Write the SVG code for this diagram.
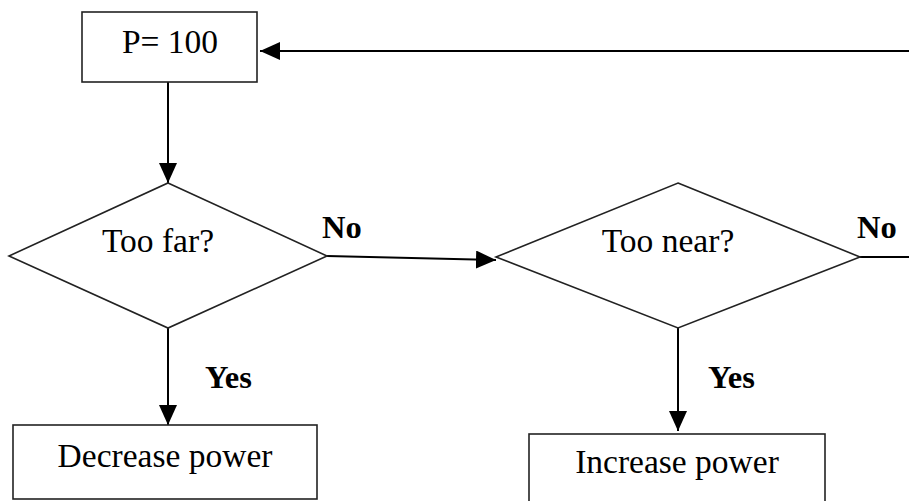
<svg xmlns="http://www.w3.org/2000/svg" width="909" height="501" viewBox="0 0 909 501">
<style>
.shape{fill:#fff;stroke:#222;stroke-width:1.6}
.line{fill:none;stroke:#000;stroke-width:2}
.t{font-family:"Liberation Serif","Times New Roman",serif;font-size:33.5px;fill:#000;text-anchor:middle}
.b{font-family:"Liberation Serif","Times New Roman",serif;font-size:32.5px;font-weight:bold;fill:#000}
</style>
<defs>
<marker id="ah" viewBox="0 0 20 18" refX="20" refY="9" markerWidth="20" markerHeight="18" markerUnits="userSpaceOnUse" orient="auto">
<path d="M0,0 L20,9 L0,18 Z" fill="#000"/>
</marker>
</defs>
<g id="connectors">
<line class="line" x1="909" y1="51" x2="260" y2="51" marker-end="url(#ah)"/>
<line class="line" x1="168" y1="82" x2="168" y2="183" marker-end="url(#ah)"/>
<line class="line" x1="327" y1="256" x2="496" y2="260" marker-end="url(#ah)"/>
<line class="line" x1="168" y1="328" x2="168" y2="425" marker-end="url(#ah)"/>
<line class="line" x1="678" y1="328" x2="678" y2="431" marker-end="url(#ah)"/>
<line class="line" x1="860" y1="257" x2="909" y2="257"/>
<text class="b" x="322" y="238">No</text>
<text class="b" x="857" y="238">No</text>
<text class="b" x="205" y="388">Yes</text>
<text class="b" x="708" y="388">Yes</text>
</g>
<g id="start">
<rect class="shape" x="82" y="12" width="175" height="70"/>
<text class="t" x="170" y="53">P= 100</text>
</g>
<g id="toofar">
<polygon class="shape" points="168,183 327,256 168,328 9,256"/>
<text class="t" x="158" y="252">Too far?</text>
</g>
<g id="toonear">
<polygon class="shape" points="678,183 860,257 678,328 496,257"/>
<text class="t" x="668" y="252">Too near?</text>
</g>
<g id="decrease">
<rect class="shape" x="13" y="425" width="304" height="74"/>
<text class="t" x="165" y="467">Decrease power</text>
</g>
<g id="increase">
<rect class="shape" x="529" y="434" width="296" height="80"/>
<text class="t" x="677" y="473">Increase power</text>
</g>
</svg>
